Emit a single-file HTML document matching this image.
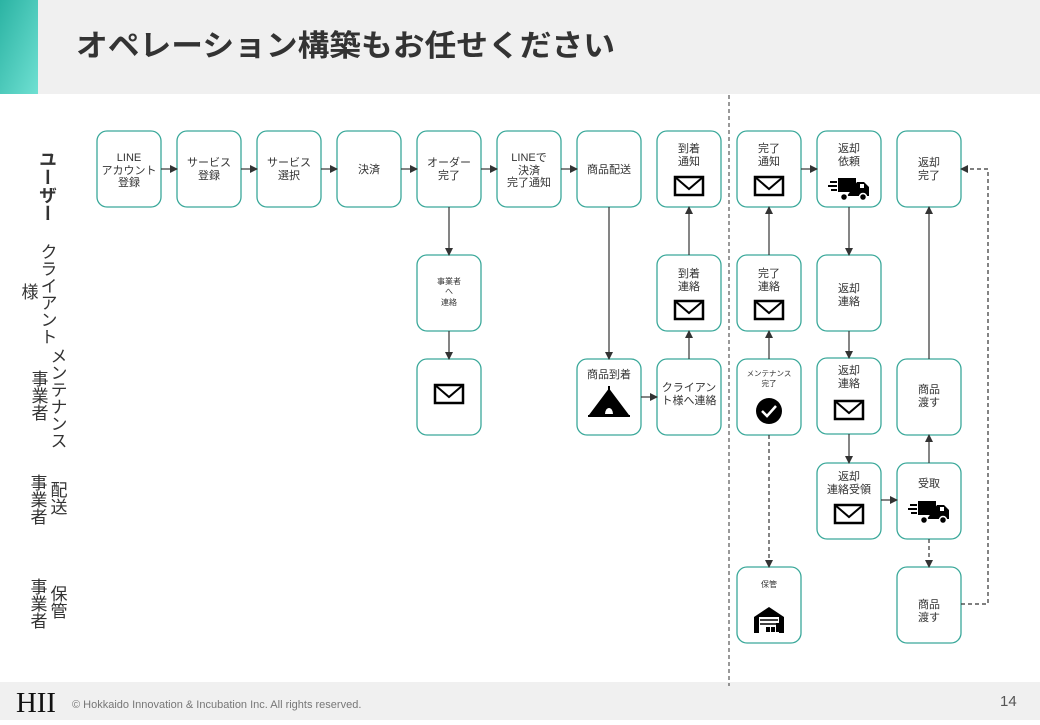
<!DOCTYPE html>
<html><head><meta charset="utf-8"><style>
body{margin:0;width:1040px;height:720px;overflow:hidden;background:#fff;font-family:"Liberation Sans","Noto Sans CJK JP",sans-serif}
</style></head><body>
<svg width="1040" height="720" viewBox="0 0 1040 720" xmlns="http://www.w3.org/2000/svg" font-family="Liberation Sans, Noto Sans CJK JP, sans-serif">
<defs>
<linearGradient id="g" x1="0" y1="0" x2="1" y2="1"><stop offset="0" stop-color="#2bb3a3"/><stop offset="1" stop-color="#6fe0d2"/></linearGradient>
<marker id="a" markerWidth="8" markerHeight="8" refX="7" refY="4" orient="auto" markerUnits="userSpaceOnUse"><path d="M0,0 L8,4 L0,8z" fill="#333"/></marker>
<g id="env"><rect x="-14" y="-9" width="28" height="18" fill="#fff" stroke="#000" stroke-width="2.5"/><polyline points="-14,-9 0,3 14,-9" fill="none" stroke="#000" stroke-width="2"/></g>
<g id="truck"><path d="M-14,-10 h18 v14 h-18z M5,-6 h7 l5,5 v9 h-22z" fill="#000"/><circle cx="-8" cy="9" r="3.5" fill="#000" stroke="#fff" stroke-width="1.5"/><circle cx="11" cy="9" r="3.5" fill="#000" stroke="#fff" stroke-width="1.5"/><path d="M-22,-6h7M-24,-2h9M-21,2h6" stroke="#000" stroke-width="2"/><rect x="8" y="-4" width="4" height="4" fill="#fff"/></g>
</defs>
<rect x="0" y="0" width="1040" height="94" fill="#f0f0f0"/>
<rect x="0" y="0" width="38" height="94" fill="url(#g)"/>
<text x="76" y="56" font-size="30" font-weight="bold" fill="#333" textLength="539" lengthAdjust="spacingAndGlyphs">オペレーション構築もお任せください</text>
<rect x="0" y="682" width="1040" height="38" fill="#f0f0f0"/>
<text x="16" y="712" font-family="Liberation Serif, serif" font-size="28" fill="#111" textLength="40" lengthAdjust="spacingAndGlyphs">HII</text>
<text x="72" y="708" font-size="11" fill="#777">© Hokkaido Innovation &amp; Incubation Inc. All rights reserved.</text>
<text x="1000" y="706" font-size="15" fill="#555">14</text>
<line x1="729" y1="95" x2="729" y2="686" stroke="#333" stroke-dasharray="4,3"/>
<g font-size="17" fill="#333" style="writing-mode:vertical-rl">
<text x="47" y="150" font-weight="bold" font-size="18">ユーザー</text>
<text x="47" y="243">クライアント</text>
<text x="28" y="283">様</text>
<text x="57" y="347">メンテナンス</text>
<text x="38" y="370">事業者</text>
<text x="57" y="481">配送</text>
<text x="37" y="474">事業者</text>
<text x="57" y="585">保管</text>
<text x="37" y="578">事業者</text>
</g>
<g fill="#fff" stroke="#3aa89a" stroke-width="1.3">
<rect x="97" y="131" width="64" height="76" rx="10"/><rect x="177" y="131" width="64" height="76" rx="10"/><rect x="257" y="131" width="64" height="76" rx="10"/><rect x="337" y="131" width="64" height="76" rx="10"/><rect x="417" y="131" width="64" height="76" rx="10"/><rect x="497" y="131" width="64" height="76" rx="10"/><rect x="577" y="131" width="64" height="76" rx="10"/><rect x="657" y="131" width="64" height="76" rx="10"/><rect x="737" y="131" width="64" height="76" rx="10"/><rect x="817" y="131" width="64" height="76" rx="10"/><rect x="897" y="131" width="64" height="76" rx="10"/>
<rect x="417" y="255" width="64" height="76" rx="10"/><rect x="657" y="255" width="64" height="76" rx="10"/><rect x="737" y="255" width="64" height="76" rx="10"/><rect x="817" y="255" width="64" height="76" rx="10"/>
<rect x="417" y="359" width="64" height="76" rx="10"/><rect x="577" y="359" width="64" height="76" rx="10"/><rect x="657" y="359" width="64" height="76" rx="10"/><rect x="737" y="359" width="64" height="76" rx="10"/><rect x="817" y="358" width="64" height="76" rx="10"/><rect x="897" y="359" width="64" height="76" rx="10"/>
<rect x="817" y="463" width="64" height="76" rx="10"/><rect x="897" y="463" width="64" height="76" rx="10"/>
<rect x="737" y="567" width="64" height="76" rx="10"/><rect x="897" y="567" width="64" height="76" rx="10"/>
</g>
<g font-size="11" fill="#333" text-anchor="middle">
<text x="129" y="161">LINE</text><text x="129" y="174">アカウント</text><text x="129" y="186">登録</text>
<text x="209" y="166">サービス</text><text x="209" y="179">登録</text>
<text x="289" y="166">サービス</text><text x="289" y="179">選択</text>
<text x="369" y="173">決済</text>
<text x="449" y="166">オーダー</text><text x="449" y="179">完了</text>
<text x="529" y="161">LINEで</text><text x="529" y="174">決済</text><text x="529" y="186">完了通知</text>
<text x="609" y="173">商品配送</text>
<text x="689" y="152">到着</text><text x="689" y="165">通知</text>
<text x="769" y="152">完了</text><text x="769" y="165">通知</text>
<text x="849" y="152">返却</text><text x="849" y="165">依頼</text>
<text x="929" y="166">返却</text><text x="929" y="179">完了</text>
<text x="449" y="284" font-size="8">事業者</text><text x="449" y="294" font-size="8">へ</text><text x="449" y="305" font-size="8">連絡</text>
<text x="689" y="277">到着</text><text x="689" y="290">連絡</text>
<text x="769" y="277">完了</text><text x="769" y="290">連絡</text>
<text x="849" y="292">返却</text><text x="849" y="305">連絡</text>
<text x="609" y="378">商品到着</text>
<text x="689" y="391">クライアン</text><text x="689" y="404">ト様へ連絡</text>
<text x="769" y="376" font-size="7.5">メンテナンス</text><text x="769" y="386" font-size="7.5">完了</text>
<text x="849" y="374">返却</text><text x="849" y="387">連絡</text>
<text x="929" y="393">商品</text><text x="929" y="406">渡す</text>
<text x="849" y="480">返却</text><text x="849" y="493">連絡受領</text>
<text x="929" y="487">受取</text>
<text x="769" y="587" font-size="8">保管</text>
<text x="929" y="608">商品</text><text x="929" y="621">渡す</text>
</g>
<use href="#env" x="689" y="186"/><use href="#env" x="769" y="186"/><use href="#env" x="689" y="310"/><use href="#env" x="769" y="310"/><use href="#env" x="449" y="394"/><use href="#env" x="849" y="410"/><use href="#env" x="849" y="514"/>
<use href="#truck" x="852" y="188"/><use href="#truck" x="932" y="511"/>
<path d="M588,416 h42 M609,386 v4 M609,390 L591,414 h36z" fill="#000" stroke="#000" stroke-width="2"/><path d="M605,414 a4,6 0 0 1 8,0z" fill="#fff"/>
<circle cx="769" cy="411" r="13" fill="#000"/><polyline points="762,411 767,416 776,406" fill="none" stroke="#fff" stroke-width="2.5"/>
<path d="M754,633 v-16 l15,-10 l15,10 v16z" fill="#000"/><rect x="759" y="617" width="20" height="16" fill="#fff"/><path d="M760,620h18M760,624h18" stroke="#000" stroke-width="1.5"/><rect x="766" y="627" width="4" height="5" fill="#000"/><rect x="771" y="627" width="4" height="5" fill="#000"/><rect x="776" y="623" width="3" height="9" fill="#000"/>
<g stroke="#333" stroke-width="1.2" fill="none" marker-end="url(#a)">
<line x1="161" y1="169" x2="177" y2="169"/><line x1="241" y1="169" x2="257" y2="169"/><line x1="321" y1="169" x2="337" y2="169"/><line x1="401" y1="169" x2="417" y2="169"/><line x1="481" y1="169" x2="497" y2="169"/><line x1="561" y1="169" x2="577" y2="169"/><line x1="801" y1="169" x2="817" y2="169"/>
<line x1="449" y1="207" x2="449" y2="255"/><line x1="449" y1="331" x2="449" y2="359"/>
<line x1="609" y1="207" x2="609" y2="359"/><line x1="641" y1="397" x2="657" y2="397"/>
<line x1="689" y1="359" x2="689" y2="331"/><line x1="689" y1="255" x2="689" y2="207"/>
<line x1="769" y1="359" x2="769" y2="331"/><line x1="769" y1="255" x2="769" y2="207"/>
<line x1="769" y1="435" x2="769" y2="567" stroke-dasharray="4,3"/>
<line x1="849" y1="207" x2="849" y2="255"/><line x1="849" y1="331" x2="849" y2="358"/><line x1="849" y1="434" x2="849" y2="463"/>
<line x1="881" y1="500" x2="897" y2="500"/>
<line x1="929" y1="463" x2="929" y2="435"/><line x1="929" y1="359" x2="929" y2="207"/>
<line x1="929" y1="539" x2="929" y2="567" stroke-dasharray="4,3"/>
<polyline points="961,604 988,604 988,169 961,169" stroke-dasharray="4,3"/>
</g>
</svg>
</body></html>
